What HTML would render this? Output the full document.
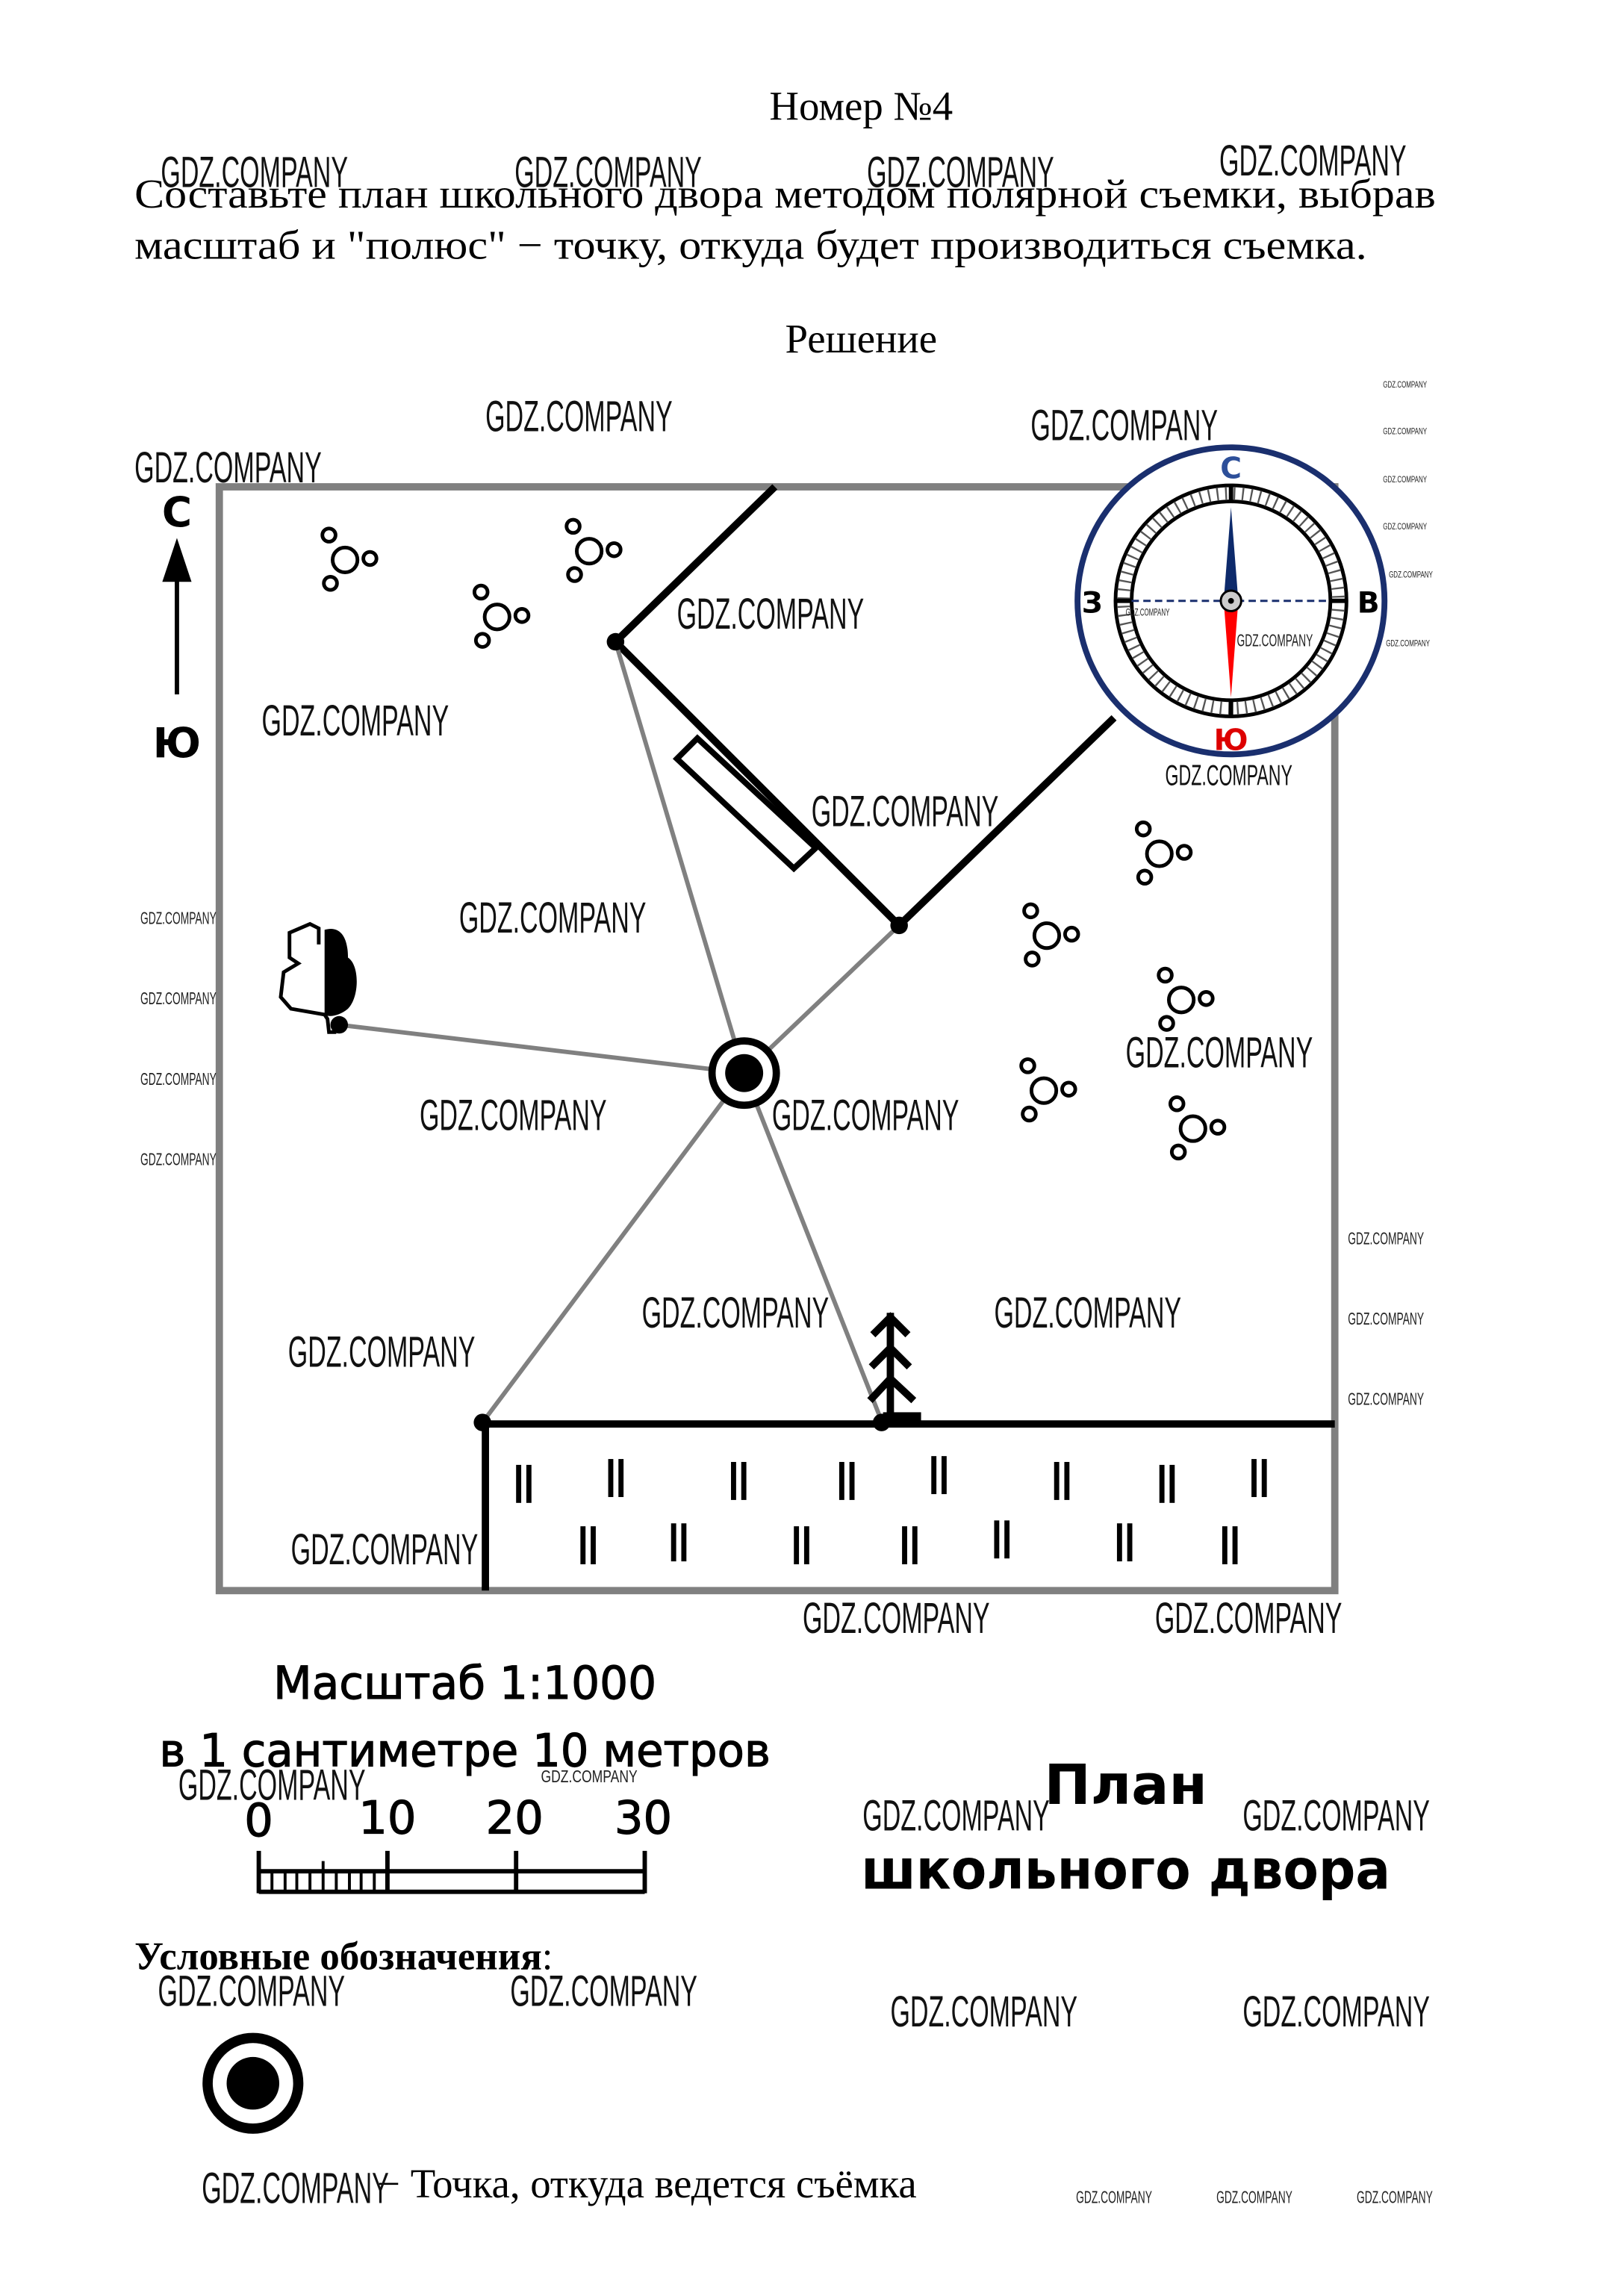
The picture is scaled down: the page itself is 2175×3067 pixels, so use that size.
<!DOCTYPE html>
<html><head><meta charset="utf-8"><style>
html,body{margin:0;padding:0;background:#fff;width:2175px;height:3067px;overflow:hidden}
svg{display:block}
.wm{font-family:"Liberation Sans",sans-serif;font-size:30px;fill:#111}
.ws{font-family:"Liberation Sans",sans-serif;font-size:12px;fill:#222}
.ser{font-family:"Liberation Serif",serif;fill:#000}
.san{font-family:"DejaVu Sans","Liberation Sans",sans-serif;fill:#000}
</style></head><body>
<svg width="2175" height="3067" viewBox="0 0 1110.8 1566.4" xmlns="http://www.w3.org/2000/svg">
<defs>
<g id="cl" fill="none" stroke="#000" stroke-width="2.5">
<circle cx="0" cy="0" r="8.5"/><circle cx="-11" cy="-17" r="4.5"/><circle cx="17" cy="-1" r="4.5"/><circle cx="-10" cy="16" r="4.5"/>
</g>
<g id="gr" fill="#000"><rect x="0" y="0" width="3.5" height="26"/><rect x="7" y="0" width="3.5" height="26"/></g>
</defs>
<rect width="1110.8" height="1566.4" fill="#fff"/>
<text class="ser" x="589" y="82" font-size="28" text-anchor="middle">Номер №4</text>
<text class="ser" x="92" y="142" font-size="28" textLength="890" lengthAdjust="spacingAndGlyphs">Составьте план школьного двора методом полярной съемки, выбрав</text>
<text class="ser" x="92" y="177" font-size="28" textLength="843" lengthAdjust="spacingAndGlyphs">масштаб и "полюс" − точку, откуда будет производиться съемка.</text>
<text class="ser" x="589" y="241" font-size="28" text-anchor="middle">Решение</text>

<rect x="150" y="333" width="763" height="755" fill="none" stroke="#808080" stroke-width="5"/>

<text class="san" x="121" y="360" font-size="28" font-weight="bold" text-anchor="middle">С</text>
<line x1="121" y1="392" x2="121" y2="475" stroke="#000" stroke-width="3"/>
<polygon points="121,368 111,398 131,398" fill="#000"/>
<text class="san" x="121" y="518" font-size="28" font-weight="bold" text-anchor="middle">Ю</text>

<use href="#cl" x="236" y="383"/><use href="#cl" x="403" y="377"/><use href="#cl" x="340" y="422"/>
<use href="#cl" x="793" y="584"/><use href="#cl" x="716" y="640"/><use href="#cl" x="808" y="684"/>
<use href="#cl" x="714" y="746"/><use href="#cl" x="816" y="772"/>

<polyline points="530,333 421,439 615,633 762,491" fill="none" stroke="#000" stroke-width="5"/>
<polygon points="477,505 558,580 543,594 463,519" fill="none" stroke="#000" stroke-width="4"/>

<g stroke="#808080" stroke-width="3">
<line x1="509" y1="734" x2="421" y2="439"/>
<line x1="509" y1="734" x2="615" y2="633"/>
<line x1="509" y1="734" x2="232" y2="701"/>
<line x1="509" y1="734" x2="330" y2="973"/>
<line x1="509" y1="734" x2="603" y2="972"/>
</g>
<circle cx="421" cy="439" r="6" fill="#000"/>
<circle cx="615" cy="633" r="6" fill="#000"/>
<circle cx="232" cy="701" r="6" fill="#000"/>
<circle cx="330" cy="973" r="6" fill="#000"/>
<circle cx="603" cy="973" r="6" fill="#000"/>

<path d="M218,646 L218,635 L212,632 L198,638 L198,655 L204,659 L194,665 L192,682 L199,690 L222,694 L224,697 L225,706 L230,706" fill="none" stroke="#000" stroke-width="2.5"/>
<path d="M222,636 C232,633 238,640 238,655 C246,660 246,682 238,690 C232,695 225,696 222,694 Z" fill="#000"/>

<circle cx="509" cy="734" r="22" fill="#fff" stroke="#000" stroke-width="5"/>
<circle cx="509" cy="734" r="13" fill="#000"/>

<line x1="330" y1="974" x2="913" y2="974" stroke="#000" stroke-width="5"/>
<line x1="332" y1="974" x2="332" y2="1088" stroke="#000" stroke-width="5"/>

<g stroke="#000" stroke-width="5" fill="none">
<line x1="609" y1="898" x2="609" y2="970"/>
<polyline points="597,913 609,901 621,913"/>
<polyline points="596,935 609,922 622,935"/>
<polyline points="595,958 609,943 625,958"/>
</g>
<rect x="604" y="966" width="26" height="6" fill="#000"/>

<use href="#gr" x="353" y="1002"/><use href="#gr" x="416" y="998"/><use href="#gr" x="500" y="1000"/><use href="#gr" x="574" y="1000"/>
<use href="#gr" x="637" y="996"/><use href="#gr" x="721" y="1000"/><use href="#gr" x="793" y="1002"/><use href="#gr" x="856" y="998"/>
<use href="#gr" x="397" y="1044"/><use href="#gr" x="459" y="1042"/><use href="#gr" x="543" y="1044"/><use href="#gr" x="617" y="1044"/>
<use href="#gr" x="680" y="1040"/><use href="#gr" x="764" y="1042"/><use href="#gr" x="836" y="1044"/>

<circle cx="842" cy="411" r="105" fill="#fff" stroke="#1a2f6e" stroke-width="4"/>
<circle cx="842" cy="411" r="79" fill="none" stroke="#000" stroke-width="2.5"/>
<circle cx="842" cy="411" r="68" fill="none" stroke="#000" stroke-width="2.5"/>
<circle cx="842" cy="411" r="73.5" fill="none" stroke="#555" stroke-width="9" stroke-dasharray="1.2 4.6"/>
<line x1="842" y1="332" x2="842" y2="343" stroke="#000" stroke-width="3"/>
<line x1="842" y1="479" x2="842" y2="490" stroke="#000" stroke-width="3"/>
<line x1="763" y1="411" x2="774" y2="411" stroke="#000" stroke-width="3"/>
<line x1="910" y1="411" x2="921" y2="411" stroke="#000" stroke-width="3"/>
<line x1="774" y1="411" x2="910" y2="411" stroke="#1a2f6e" stroke-width="1.5" stroke-dasharray="5 3"/>
<polygon points="842,347 837,411 847,411" fill="#0d2a6b"/>
<polygon points="842,477 837,411 847,411" fill="#f00"/>
<circle cx="842" cy="411" r="7" fill="#ccc" stroke="#000" stroke-width="1.5"/>
<circle cx="842" cy="411" r="2" fill="#000"/>
<text class="san" x="842" y="327" font-size="20" font-weight="bold" style="fill:#2d4f99" text-anchor="middle">С</text>
<text class="san" x="842" y="513" font-size="20" font-weight="bold" style="fill:#d00" text-anchor="middle">Ю</text>
<text class="san" x="747" y="419" font-size="20" font-weight="bold" text-anchor="middle">З</text>
<text class="san" x="936" y="419" font-size="20" font-weight="bold" text-anchor="middle">В</text>

<text class="san" x="318" y="1162" font-size="31" text-anchor="middle" stroke="#000" stroke-width="0.6" textLength="262" lengthAdjust="spacingAndGlyphs">Масштаб 1:1000</text>
<text class="san" x="318" y="1208" font-size="31" text-anchor="middle" stroke="#000" stroke-width="0.6" textLength="418" lengthAdjust="spacingAndGlyphs">в 1 сантиметре 10 метров</text>
<g class="san" font-size="31" text-anchor="middle" stroke="#000" stroke-width="0.6">
<text x="177" y="1256">0</text><text x="265" y="1254">10</text><text x="352" y="1254">20</text><text x="440" y="1254">30</text></g>
<g stroke="#000" stroke-width="3" fill="none">
<line x1="177" y1="1266" x2="177" y2="1295"/><line x1="265" y1="1266" x2="265" y2="1295"/>
<line x1="353" y1="1266" x2="353" y2="1295"/><line x1="441" y1="1266" x2="441" y2="1295"/>
<line x1="177" y1="1280" x2="441" y2="1280"/><line x1="177" y1="1294" x2="441" y2="1294"/>
</g>
<g stroke="#000" stroke-width="2">
<line x1="186" y1="1280" x2="186" y2="1294"/><line x1="195" y1="1280" x2="195" y2="1294"/><line x1="203" y1="1280" x2="203" y2="1294"/>
<line x1="212" y1="1280" x2="212" y2="1294"/><line x1="221" y1="1273" x2="221" y2="1294"/><line x1="230" y1="1280" x2="230" y2="1294"/>
<line x1="239" y1="1280" x2="239" y2="1294"/><line x1="247" y1="1280" x2="247" y2="1294"/><line x1="256" y1="1280" x2="256" y2="1294"/>
</g>

<text class="san" x="770" y="1234" font-size="38" font-weight="bold" text-anchor="middle">План</text>
<text class="san" x="770" y="1292" font-size="38" font-weight="bold" text-anchor="middle" textLength="362" lengthAdjust="spacingAndGlyphs">школьного двора</text>

<text class="ser" x="92" y="1347" font-size="27" font-weight="bold">Условные обозначения<tspan font-weight="normal">:</tspan></text>
<circle cx="173" cy="1425" r="31" fill="#fff" stroke="#000" stroke-width="7"/>
<circle cx="173" cy="1425" r="18" fill="#000"/>
<text class="ser" x="258" y="1503" font-size="28">− Точка, откуда ведется съёмка</text>

<g class="wm">
<text x="110" y="128" textLength="128" lengthAdjust="spacingAndGlyphs">GDZ.COMPANY</text>
<text x="352" y="128" textLength="128" lengthAdjust="spacingAndGlyphs">GDZ.COMPANY</text>
<text x="593" y="128" textLength="128" lengthAdjust="spacingAndGlyphs">GDZ.COMPANY</text>
<text x="834" y="120" textLength="128" lengthAdjust="spacingAndGlyphs">GDZ.COMPANY</text>
<text x="332" y="295" textLength="128" lengthAdjust="spacingAndGlyphs">GDZ.COMPANY</text>
<text x="705" y="301" textLength="128" lengthAdjust="spacingAndGlyphs">GDZ.COMPANY</text>
<text x="92" y="330" textLength="128" lengthAdjust="spacingAndGlyphs">GDZ.COMPANY</text>
<text x="463" y="430" textLength="128" lengthAdjust="spacingAndGlyphs">GDZ.COMPANY</text>
<text x="179" y="503" textLength="128" lengthAdjust="spacingAndGlyphs">GDZ.COMPANY</text>
<text x="555" y="565" textLength="128" lengthAdjust="spacingAndGlyphs">GDZ.COMPANY</text>
<text x="314" y="638" textLength="128" lengthAdjust="spacingAndGlyphs">GDZ.COMPANY</text>
<text x="770" y="730" textLength="128" lengthAdjust="spacingAndGlyphs">GDZ.COMPANY</text>
<text x="287" y="773" textLength="128" lengthAdjust="spacingAndGlyphs">GDZ.COMPANY</text>
<text x="528" y="773" textLength="128" lengthAdjust="spacingAndGlyphs">GDZ.COMPANY</text>
<text x="439" y="908" textLength="128" lengthAdjust="spacingAndGlyphs">GDZ.COMPANY</text>
<text x="680" y="908" textLength="128" lengthAdjust="spacingAndGlyphs">GDZ.COMPANY</text>
<text x="197" y="935" textLength="128" lengthAdjust="spacingAndGlyphs">GDZ.COMPANY</text>
<text x="199" y="1070" textLength="128" lengthAdjust="spacingAndGlyphs">GDZ.COMPANY</text>
<text x="549" y="1117" textLength="128" lengthAdjust="spacingAndGlyphs">GDZ.COMPANY</text>
<text x="790" y="1117" textLength="128" lengthAdjust="spacingAndGlyphs">GDZ.COMPANY</text>
<text x="122" y="1231" textLength="128" lengthAdjust="spacingAndGlyphs">GDZ.COMPANY</text>
<text x="590" y="1252" textLength="128" lengthAdjust="spacingAndGlyphs">GDZ.COMPANY</text>
<text x="850" y="1252" textLength="128" lengthAdjust="spacingAndGlyphs">GDZ.COMPANY</text>
<text x="108" y="1372" textLength="128" lengthAdjust="spacingAndGlyphs">GDZ.COMPANY</text>
<text x="349" y="1372" textLength="128" lengthAdjust="spacingAndGlyphs">GDZ.COMPANY</text>
<text x="609" y="1386" textLength="128" lengthAdjust="spacingAndGlyphs">GDZ.COMPANY</text>
<text x="850" y="1386" textLength="128" lengthAdjust="spacingAndGlyphs">GDZ.COMPANY</text>
<text x="138" y="1507" textLength="128" lengthAdjust="spacingAndGlyphs">GDZ.COMPANY</text>
<text x="797" y="537" font-size="20" textLength="87" lengthAdjust="spacingAndGlyphs">GDZ.COMPANY</text>
</g>
<g class="ws">
<text x="96" y="632" textLength="52" lengthAdjust="spacingAndGlyphs">GDZ.COMPANY</text>
<text x="96" y="687" textLength="52" lengthAdjust="spacingAndGlyphs">GDZ.COMPANY</text>
<text x="96" y="742" textLength="52" lengthAdjust="spacingAndGlyphs">GDZ.COMPANY</text>
<text x="96" y="797" textLength="52" lengthAdjust="spacingAndGlyphs">GDZ.COMPANY</text>
<text x="922" y="851" textLength="52" lengthAdjust="spacingAndGlyphs">GDZ.COMPANY</text>
<text x="922" y="906" textLength="52" lengthAdjust="spacingAndGlyphs">GDZ.COMPANY</text>
<text x="922" y="961" textLength="52" lengthAdjust="spacingAndGlyphs">GDZ.COMPANY</text>
<text x="846" y="442" textLength="52" lengthAdjust="spacingAndGlyphs">GDZ.COMPANY</text>
<text x="370" y="1219" textLength="66" lengthAdjust="spacingAndGlyphs">GDZ.COMPANY</text>
<text x="736" y="1507" textLength="52" lengthAdjust="spacingAndGlyphs">GDZ.COMPANY</text>
<text x="832" y="1507" textLength="52" lengthAdjust="spacingAndGlyphs">GDZ.COMPANY</text>
<text x="928" y="1507" textLength="52" lengthAdjust="spacingAndGlyphs">GDZ.COMPANY</text>
</g>
<g class="ws">
<text x="946" y="265" font-size="6" textLength="30" lengthAdjust="spacingAndGlyphs">GDZ.COMPANY</text>
<text x="946" y="297" font-size="6" textLength="30" lengthAdjust="spacingAndGlyphs">GDZ.COMPANY</text>
<text x="946" y="330" font-size="6" textLength="30" lengthAdjust="spacingAndGlyphs">GDZ.COMPANY</text>
<text x="946" y="362" font-size="6" textLength="30" lengthAdjust="spacingAndGlyphs">GDZ.COMPANY</text>
<text x="950" y="395" font-size="6" textLength="30" lengthAdjust="spacingAndGlyphs">GDZ.COMPANY</text>
<text x="948" y="442" font-size="6" textLength="30" lengthAdjust="spacingAndGlyphs">GDZ.COMPANY</text>
<text x="770" y="421" font-size="7" textLength="30" lengthAdjust="spacingAndGlyphs">GDZ.COMPANY</text>
</g>
</svg>
</body></html>
